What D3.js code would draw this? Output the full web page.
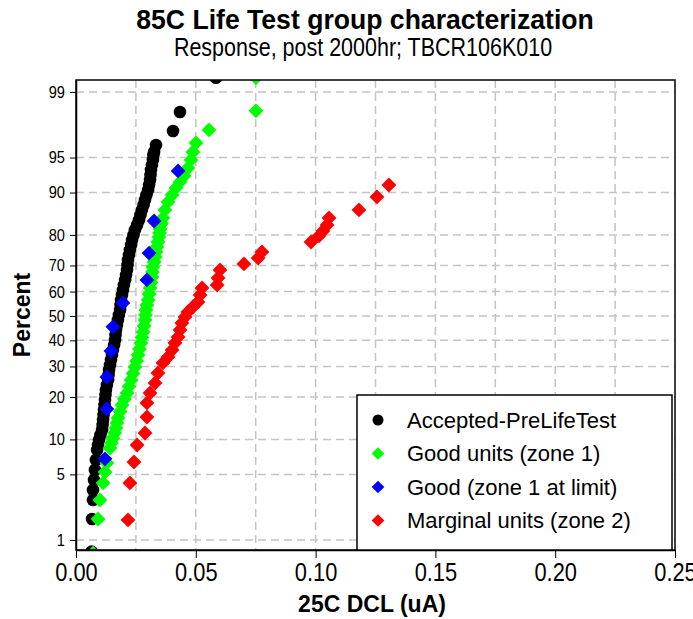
<!DOCTYPE html>
<html>
<head>
<meta charset="utf-8">
<script src="https://cdn.jsdelivr.net/npm/d3@7"></script>
<style>
  body { margin: 0; background: #fff; }
  svg { display: block; font-family: "Liberation Sans", Arial, sans-serif; }
</style>
</head>
<body>
<div id="chart"></div>
<script>
// percent ticks on the normal probability axis
const probTicks = [1, 5, 10, 20, 30, 40, 50, 60, 70, 80, 90, 95, 99];
const xTicks = [0, 0.05, 0.10, 0.15, 0.20, 0.25];

const acceptedX = [0.0065, 0.0067, 0.0071, 0.0071, 0.0075, 0.0079, 0.0083, 0.0088, 0.0092, 0.0096, 0.0102, 0.0109, 0.0111, 0.0113, 0.0115, 0.0117, 0.0119, 0.0121, 0.0123, 0.0125, 0.0129, 0.0134, 0.0136, 0.0138, 0.0142, 0.0146, 0.0150, 0.0154, 0.0159, 0.0163, 0.0165, 0.0167, 0.0171, 0.0175, 0.0179, 0.0184, 0.0186, 0.0188, 0.0192, 0.0196, 0.0200, 0.0205, 0.0209, 0.0213, 0.0215, 0.0217, 0.0221, 0.0225, 0.0230, 0.0234, 0.0240, 0.0246, 0.0255, 0.0263, 0.0269, 0.0275, 0.0282, 0.0288, 0.0294, 0.0301, 0.0305, 0.0309, 0.0311, 0.0313, 0.0317, 0.0321, 0.0323, 0.0326, 0.0334, 0.0405, 0.0434, 0.0584];
const acceptedPct = [0.72, 1.75, 2.80, 3.54, 4.43, 5.49, 6.74, 8.21, 9.02, 9.89, 10.83, 11.83, 12.88, 14.01, 15.20, 16.45, 17.77, 19.16, 20.60, 22.12, 23.68, 25.31, 27.00, 28.75, 30.54, 32.38, 34.27, 36.20, 38.17, 40.17, 42.19, 44.22, 46.28, 48.34, 50.41, 52.49, 54.54, 56.60, 58.63, 60.64, 62.62, 64.57, 66.49, 68.37, 70.19, 71.97, 73.67, 75.34, 76.95, 78.49, 79.98, 81.41, 82.77, 84.06, 85.29, 86.45, 87.55, 88.59, 89.55, 90.46, 91.31, 92.10, 92.84, 93.53, 94.16, 94.74, 95.27, 95.57, 96.21, 97.26, 98.29, 99.33];

const goodX = [0.0071, 0.0092, 0.0100, 0.0113, 0.0121, 0.0129, 0.0142, 0.0148, 0.0154, 0.0161, 0.0167, 0.0171, 0.0175, 0.0184, 0.0192, 0.0202, 0.0213, 0.0221, 0.0230, 0.0238, 0.0246, 0.0253, 0.0259, 0.0265, 0.0271, 0.0275, 0.0280, 0.0284, 0.0288, 0.0290, 0.0292, 0.0296, 0.0301, 0.0305, 0.0309, 0.0313, 0.0317, 0.0319, 0.0321, 0.0326, 0.0330, 0.0334, 0.0338, 0.0342, 0.0346, 0.0349, 0.0351, 0.0357, 0.0363, 0.0371, 0.0384, 0.0401, 0.0417, 0.0434, 0.0451, 0.0467, 0.0480, 0.0488, 0.0501, 0.0555, 0.0751, 0.0751];
const goodPct = [0.69, 1.75, 2.80, 4.15, 5.26, 6.35, 8.52, 9.36, 10.26, 11.22, 12.24, 13.33, 14.48, 16.06, 17.77, 19.44, 21.19, 23.21, 25.31, 27.52, 29.81, 32.02, 34.27, 36.58, 38.97, 41.17, 43.41, 45.86, 48.34, 50.41, 52.49, 54.54, 56.60, 59.03, 61.44, 63.61, 65.73, 67.62, 69.46, 71.25, 73.00, 74.69, 76.32, 77.88, 79.40, 80.56, 81.67, 83.10, 84.57, 86.45, 88.18, 89.55, 90.81, 91.80, 92.70, 93.78, 94.74, 95.57, 96.38, 97.33, 98.34, 99.33];

const limitX = [0.0121, 0.0129, 0.0129, 0.0146, 0.0154, 0.0196, 0.0296, 0.0305, 0.0326, 0.0426];
const limitPct = [6.9, 16.7, 26.3, 35.8, 45.5, 55.4, 64.6, 74.3, 83.8, 93.4];

const marginalX = [0.0217, 0.0225, 0.0242, 0.0255, 0.0288, 0.0296, 0.0296, 0.0309, 0.0330, 0.0342, 0.0363, 0.0384, 0.0401, 0.0413, 0.0426, 0.0434, 0.0442, 0.0455, 0.0467, 0.0488, 0.0509, 0.0518, 0.0526, 0.0589, 0.0593, 0.0601, 0.0701, 0.0760, 0.0776, 0.0981, 0.1014, 0.1031, 0.1048, 0.1056, 0.1181, 0.1256, 0.1306];
const marginalPct = [1.71, 4.15, 6.47, 9.02, 11.22, 14.71, 18.32, 21.19, 24.33, 27.69, 31.28, 33.51, 36.20, 38.97, 41.37, 44.22, 47.10, 49.60, 51.66, 53.72, 55.78, 58.63, 61.44, 62.62, 65.34, 68.37, 70.54, 72.64, 74.69, 77.88, 79.70, 81.14, 82.77, 84.57, 86.45, 89.17, 91.31];

const seriesNames = ["Accepted-PreLifeTest", "Good units (zone 1)", "Good (zone 1 at limit)", "Marginal units (zone 2)"];
const seriesColors = ["#000000", "#00ff00", "#0000ff", "#ff0000"];

// inverse standard normal (Acklam)
function probit(p) {
  const a = [-3.969683028665376e+01, 2.209460984245205e+02, -2.759285104469687e+02, 1.383577518672690e+02, -3.066479806614716e+01, 2.506628277459239e+00];
  const b = [-5.447609879822406e+01, 1.615858368580409e+02, -1.556989798598866e+02, 6.680131188771972e+01, -1.328068155288572e+01];
  const c = [-7.784894002430293e-03, -3.223964580411365e-01, -2.400758277161838e+00, -2.549732539343734e+00, 4.374664141464968e+00, 2.938163982698783e+00];
  const d = [7.784695709041462e-03, 3.224671290700398e-01, 2.445134137142996e+00, 3.754408661907416e+00];
  const pl = 0.02425;
  let q, r;
  if (p < pl) {
    q = Math.sqrt(-2 * Math.log(p));
    return (((((c[0]*q+c[1])*q+c[2])*q+c[3])*q+c[4])*q+c[5]) / ((((d[0]*q+d[1])*q+d[2])*q+d[3])*q+1);
  }
  if (p > 1 - pl) {
    q = Math.sqrt(-2 * Math.log(1 - p));
    return -(((((c[0]*q+c[1])*q+c[2])*q+c[3])*q+c[4])*q+c[5]) / ((((d[0]*q+d[1])*q+d[2])*q+d[3])*q+1);
  }
  q = p - 0.5; r = q * q;
  return (((((a[0]*r+a[1])*r+a[2])*r+a[3])*r+a[4])*r+a[5])*q / (((((b[0]*r+b[1])*r+b[2])*r+b[3])*r+b[4])*r+1);
}

const width = 693, height = 619;
const margin = { top: 80, right: 18, bottom: 69, left: 76 };

const svg = d3.select("#chart").append("svg")
  .attr("width", width)
  .attr("height", height);

const x = d3.scaleLinear()
  .domain([0, 0.25])
  .range([margin.left, width - margin.right]);

// y works on z scores; the edges sit just outside 1% / 99%
const zScale = d3.scaleLinear()
  .domain([-2.43, 2.45])
  .range([height - margin.bottom, margin.top]);
const y = pct => zScale(probit(pct / 100));

svg.append("clipPath").attr("id", "plotclip")
  .append("rect")
  .attr("x", margin.left).attr("y", margin.top)
  .attr("width", width - margin.left - margin.right)
  .attr("height", height - margin.top - margin.bottom);

// grid
const grid = svg.append("g")
  .attr("stroke", "#c4c4c4")
  .attr("stroke-width", 1.5)
  .attr("stroke-dasharray", "8,5");
grid.selectAll("line.h")
  .data(probTicks)
  .join("line")
  .attr("x1", margin.left).attr("x2", width - margin.right)
  .attr("y1", d => y(d)).attr("y2", d => y(d));
grid.selectAll("line.v")
  .data(d3.range(1, 10).map(i => i * 0.025))
  .join("line")
  .attr("class", "v")
  .attr("x1", d => x(d)).attr("x2", d => x(d))
  .attr("y1", margin.top).attr("y2", height - margin.bottom);

// data
const marks = svg.append("g").attr("clip-path", "url(#plotclip)");
const diamond = d3.symbol().type(d3.symbolSquare).size(110);

function plotSeries(xs, ps, k) {
  const pts = xs.map((v, i) => [v, ps[i]]);
  if (k == 0) {
    marks.append("g").selectAll("circle")
      .data(pts)
      .join("circle")
      .attr("cx", d => x(d[0]))
      .attr("cy", d => y(d[1]))
      .attr("r", 6.3)
      .attr("fill", seriesColors[k]);
  } else {
    marks.append("g").selectAll("path")
      .data(pts)
      .join("path")
      .attr("d", diamond)
      .attr("transform", d => `translate(${x(d[0])},${y(d[1])}) rotate(45)`)
      .attr("fill", seriesColors[k]);
  }
}
plotSeries(acceptedX, acceptedPct, 0);
plotSeries(goodX, goodPct, 1);
plotSeries(limitX, limitPct, 2);
plotSeries(marginalX, marginalPct, 3);

// axes (text squeezed sideways to get the condensed look)
svg.append("g")
  .attr("transform", `translate(0,${height - margin.bottom})`)
  .call(d3.axisBottom(x).tickValues(xTicks).tickFormat(d3.format(".2f")).tickSize(8).tickSizeOuter(0))
  .call(g => g.selectAll("text")
    .attr("font-family", "'Liberation Sans', Arial, sans-serif")
    .attr("font-size", 26).attr("y", 12).attr("dy", "0.75em")
    .attr("transform", "scale(0.84,1)").attr("fill", "#000"))
  .call(g => g.select(".domain").attr("stroke-width", 1.5));

svg.append("g")
  .attr("transform", `translate(${margin.left},0)`)
  .call(d3.axisLeft(zScale).tickValues(probTicks.map(p => probit(p / 100))).tickFormat((d, i) => probTicks[i]).tickSize(6).tickSizeOuter(0))
  .call(g => g.selectAll("text")
    .attr("font-family", "'Liberation Sans', Arial, sans-serif")
    .attr("font-size", 17).attr("x", 0)
    .attr("transform", "translate(-11,0) scale(0.86,1)").attr("fill", "#000"))
  .call(g => g.select(".domain").attr("stroke-width", 1.5));

svg.append("rect")
  .attr("x", margin.left).attr("y", margin.top)
  .attr("width", width - margin.left - margin.right)
  .attr("height", height - margin.top - margin.bottom)
  .attr("fill", "none").attr("stroke", "#000").attr("stroke-width", 1.5);

// titles
svg.append("text")
  .attr("transform", "translate(365,29) scale(0.95,1)")
  .attr("text-anchor", "middle")
  .attr("font-size", 28).attr("font-weight", "bold")
  .text("85C Life Test group characterization");
svg.append("text")
  .attr("transform", "translate(363,56) scale(0.86,1)")
  .attr("text-anchor", "middle")
  .attr("font-size", 25)
  .text("Response, post 2000hr; TBCR106K010");
svg.append("text")
  .attr("x", 372).attr("y", 612)
  .attr("text-anchor", "middle")
  .attr("font-size", 23).attr("font-weight", "bold")
  .text("25C DCL (uA)");
svg.append("text")
  .attr("transform", "translate(30,315) rotate(-90)")
  .attr("text-anchor", "middle")
  .attr("font-size", 23).attr("font-weight", "bold")
  .text("Percent");

// legend
const lg = svg.append("g").attr("transform", "translate(357,395)");
lg.append("rect")
  .attr("width", 315).attr("height", 155)
  .attr("fill", "#fff").attr("stroke", "#000").attr("stroke-width", 1.5);
const rows = lg.selectAll("g.row")
  .data(seriesNames)
  .join("g")
  .attr("transform", (d, i) => `translate(21,${25 + i * 33.5})`);
rows.append("path")
  .attr("d", (d, i) => i == 0 ? d3.symbol().type(d3.symbolCircle).size(95)() : d3.symbol().type(d3.symbolSquare).size(80)())
  .attr("transform", (d, i) => i == 0 ? "" : "rotate(45)")
  .attr("fill", (d, i) => seriesColors[i]);
rows.append("text")
  .attr("x", 29).attr("dy", "0.35em")
  .attr("font-size", 22)
  .text(d => d);
</script>
</body>
</html>
